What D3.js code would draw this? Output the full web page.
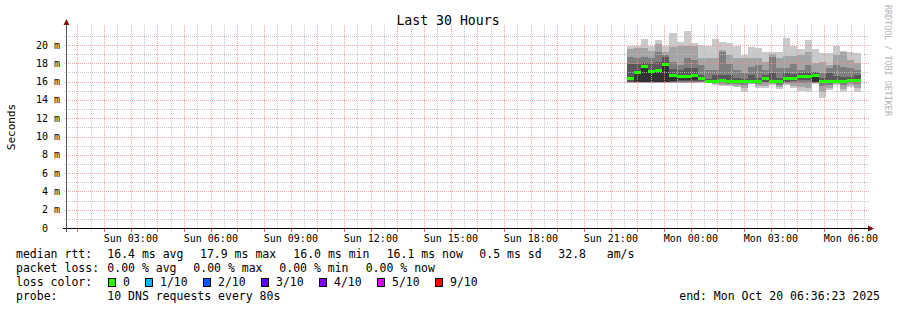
<!DOCTYPE html>
<meta charset='utf-8'>
<style>
html, body {
  margin: 0;
  padding: 0;
  background: #fff;
}
svg {
  display: block;
  font-family: 'DejaVu Sans Mono', monospace;
}
.minor { stroke: rgba(190,190,190,0.85); stroke-dasharray: 1,1; }
.major { stroke: rgba(240,140,140,0.8); stroke-dasharray: 1,1; }
text { fill: #000; white-space: pre; }
</style>
<body>
<div id='chart'></div>
<script src='https://cdnjs.cloudflare.com/ajax/libs/d3/7.8.5/d3.min.js'></script>
<script>

// ---- data ----
var yTicks = [0, 2, 4, 6, 8, 10, 12, 14, 16, 18, 20];
var yMax = 21.86;
var sampleStart = Date.UTC(2025, 9, 19, 21, 36);  // first smoke column
var stepMin = 16;

// median rtt per column (ms)
var median = [16.35, 16.95, 17.63, 17.15, 17.25, 17.85, 16.72, 16.58, 16.58, 16.62,
  16.3, 15.97, 15.97, 16.1, 15.97, 15.97, 15.97, 15.97, 15.97, 16.3,
  15.97, 15.97, 16.35, 16.35, 16.54, 16.54, 16.72, 15.97, 15.97, 15.97,
  15.97, 16.1, 16.1];

// packet loss per column (pings lost of 10)
var loss = [0,0,0,0,0,0,0,0,0,0,0,0,0,0,0,0,0,0,0,0,0,0,0,0,0,0,0,0,0,0,0,0,0];

// the 10 sorted ping times per column (ms)
var smoke = [
  [15.88, 15.9, 15.93, 15.98, 16.3, 16.4, 17.88, 18.72, 19.56, 19.93],
  [15.88, 15.9, 15.93, 15.95, 16.0, 17.0, 17.9, 18.6, 19.64, 19.93],
  [15.88, 15.9, 15.92, 15.95, 16.0, 17.7, 18.0, 18.72, 19.7, 20.65],
  [15.88, 15.9, 15.92, 15.95, 16.0, 17.2, 18.0, 18.6, 19.3, 19.93],
  [15.88, 15.9, 15.92, 15.95, 16.0, 17.3, 18.17, 19.2, 20.1, 20.55],
  [15.88, 15.9, 15.92, 15.95, 16.0, 17.9, 18.7, 18.9, 19.2, 19.93],
  [15.88, 15.9, 15.95, 16.0, 16.1, 16.75, 17.4, 18.17, 19.82, 21.27],
  [15.88, 15.9, 15.95, 16.05, 16.2, 16.6, 17.3, 17.81, 19.9, 20.3],
  [15.88, 15.9, 15.95, 16.05, 16.2, 16.6, 17.45, 18.54, 19.93, 21.53],
  [15.88, 15.9, 15.95, 16.05, 16.2, 16.65, 17.45, 18.36, 19.93, 20.18],
  [15.9, 15.95, 16.0, 16.1, 16.25, 16.4, 16.72, 17.8, 18.6, 20.0],
  [15.85, 15.88, 15.9, 15.93, 15.95, 16.05, 16.3, 17.27, 18.6, 19.93],
  [15.63, 15.7, 15.8, 15.9, 15.95, 16.1, 16.72, 17.27, 18.6, 20.65],
  [15.5, 15.6, 15.8, 15.95, 16.05, 16.2, 16.72, 19.2, 19.45, 20.3],
  [15.5, 15.6, 15.75, 15.9, 15.95, 16.05, 16.72, 17.88, 18.9, 20.2],
  [15.45, 15.55, 15.7, 15.9, 15.95, 16.05, 16.4, 17.27, 18.6, 19.93],
  [14.9, 15.3, 15.6, 15.85, 15.95, 16.05, 16.3, 16.9, 18.54, 18.9],
  [15.7, 15.75, 15.8, 15.9, 15.95, 16.05, 16.72, 17.6, 18.6, 19.82],
  [15.35, 15.5, 15.7, 15.88, 15.95, 16.05, 16.4, 17.8, 18.54, 19.64],
  [15.26, 15.5, 15.8, 16.0, 16.2, 16.4, 16.7, 17.27, 18.17, 19.2],
  [15.63, 15.7, 15.8, 15.9, 15.95, 16.05, 16.9, 18.7, 19.0, 19.2],
  [15.2, 15.4, 15.6, 15.85, 15.95, 16.05, 16.4, 17.5, 18.54, 19.2],
  [15.63, 15.75, 15.85, 16.0, 16.3, 16.4, 16.9, 17.45, 18.83, 20.8],
  [15.26, 15.5, 15.8, 16.1, 16.3, 16.4, 16.8, 17.88, 18.83, 19.93],
  [15.0, 15.4, 15.8, 16.2, 16.5, 16.6, 16.9, 17.27, 18.9, 19.56],
  [14.9, 15.3, 15.8, 16.2, 16.5, 16.6, 17.0, 17.8, 19.2, 20.55],
  [15.7, 15.8, 15.9, 15.95, 16.0, 16.8, 17.0, 17.08, 18.0, 19.56],
  [14.24, 14.9, 15.5, 15.85, 15.95, 16.05, 16.4, 16.9, 18.17, 19.1],
  [15.08, 15.3, 15.6, 15.85, 15.95, 16.05, 16.9, 17.45, 17.8, 19.1],
  [15.63, 15.7, 15.8, 15.9, 15.95, 16.05, 16.6, 17.8, 18.9, 19.93],
  [14.9, 15.2, 15.6, 15.85, 15.95, 16.05, 16.5, 17.6, 19.2, 19.35],
  [15.45, 15.6, 15.8, 15.95, 16.05, 16.15, 16.54, 17.45, 18.4, 19.2],
  [14.9, 15.3, 15.7, 15.95, 16.05, 16.15, 16.7, 17.27, 18.0, 19.1]
];

var lossLabels = ['0', '1/10', '2/10', '3/10', '4/10', '5/10', '9/10'];
var lossColors = ['#26ff00', '#00b8ff', '#0059ff', '#5e00ff', '#7e00ff', '#dd00ff', '#ff0000'];

var rttStats = ['16.4 ms avg', '17.9 ms max', '16.0 ms min', '16.1 ms now', '0.5 ms sd', '32.8   am/s'];
var lossStats = ['0.00 % avg', '0.00 % max', '0.00 % min', '0.00 % now'];

// ---- layout ----
var W = 897, H = 310;
var pLeft = 67, pRight = 867, pTop = 28, pBottom = 228;
var tStart = new Date(Date.UTC(2025, 9, 19, 0, 36, 23));
var tEnd = new Date(Date.UTC(2025, 9, 20, 6, 36, 23));

var x = d3.scaleUtc().domain([tStart, tEnd]).range([pLeft, pRight]);
var y = d3.scaleLinear().domain([0, yMax]).range([pBottom, pTop]);
var fmt = d3.utcFormat('%a %H:%M');

var svg = d3.select('#chart').append('svg')
    .attr('width', W)
    .attr('height', H);

var px = function(v) { return Math.round(v) + 0.5; };

// smoke: band i spans ping i .. ping (11-i), inner bands darker
var bandColors = [];
for (var b = 1; b <= 5; b++) {
  var c = Math.floor(190 / 5 * (5 - b)) + 50;
  bandColors.push(d3.rgb(c, c, c).formatHex());
}

var cols = smoke.map(function(p, i) {
  return {
    t0: new Date(sampleStart + i * stepMin * 60000),
    t1: new Date(sampleStart + (i + 1) * stepMin * 60000),
    p: p, med: median[i], loss: loss[i]
  };
});

var plot = svg.append('g').attr('shape-rendering', 'crispEdges');
cols.forEach(function(d) {
  for (var b = 0; b < 5; b++) {
    plot.append('rect')
      .attr('x', x(d.t0))
      .attr('width', x(d.t1) - x(d.t0))
      .attr('y', y(d.p[9 - b]))
      .attr('height', y(d.p[b]) - y(d.p[9 - b]))
      .attr('fill', bandColors[b]);
  }
});

// grid (on top of the smoke, like rrdtool)
var grid = svg.append('g').attr('shape-rendering', 'crispEdges');
var halfHours = d3.utcMinute.every(30).range(tStart, tEnd).filter(function(d) { return d.getUTCMinutes() == 30; });
var hours = d3.utcHour.range(tStart, tEnd);
var yMinor = d3.range(1, yMax, 2);

grid.selectAll('.hmin').data(yMinor).enter().append('line')
  .attr('class', 'minor')
  .attr('x1', pLeft - 3).attr('x2', pRight + 3)
  .attr('y1', function(d) { return px(y(d)); })
  .attr('y2', function(d) { return px(y(d)); });
grid.selectAll('.vmin').data(halfHours).enter().append('line')
  .attr('class', 'minor')
  .attr('y1', pTop - 3).attr('y2', pBottom + 3)
  .attr('x1', function(d) { return px(x(d)); })
  .attr('x2', function(d) { return px(x(d)); });
grid.selectAll('.hmaj').data(yTicks.slice(1)).enter().append('line')
  .attr('class', 'major')
  .attr('x1', pLeft - 3).attr('x2', pRight + 3)
  .attr('y1', function(d) { return px(y(d)); })
  .attr('y2', function(d) { return px(y(d)); });
grid.selectAll('.vmaj').data(hours).enter().append('line')
  .attr('class', 'major')
  .attr('y1', pTop - 3).attr('y2', pBottom + 3)
  .attr('x1', function(d) { return px(x(d)); })
  .attr('x2', function(d) { return px(x(d)); });

// median, coloured by loss
svg.append('g').attr('shape-rendering', 'crispEdges')
  .selectAll('rect').data(cols).enter().append('rect')
  .attr('x', function(d) { return x(d.t0); })
  .attr('width', function(d) { return x(d.t1) - x(d.t0); })
  .attr('y', function(d) { return y(d.med) - 1.5; })
  .attr('height', 3)
  .attr('fill', function(d) { return lossColors[d.loss]; });

// axes
var ax = svg.append('g').attr('shape-rendering', 'crispEdges');
ax.append('line').attr('x1', pLeft - 4).attr('x2', pRight + 3)
  .attr('y1', px(pBottom)).attr('y2', px(pBottom)).attr('stroke', '#000');
ax.append('line').attr('x1', px(pLeft - 1)).attr('x2', px(pLeft - 1))
  .attr('y1', pBottom + 4).attr('y2', pTop - 4).attr('stroke', '#555');
ax.selectAll('.tk').data(hours).enter().append('line')
  .attr('x1', function(d) { return px(x(d)); })
  .attr('x2', function(d) { return px(x(d)); })
  .attr('y1', pBottom + 1).attr('y2', pBottom + 4).attr('stroke', '#e06060');

svg.append('path')
  .attr('d', 'M' + (pLeft - 3.5) + ',' + (pTop - 3) + 'L' + (pLeft - 0.5) + ',' + (pTop - 9) + 'L' + (pLeft + 2.5) + ',' + (pTop - 3) + 'Z')
  .attr('fill', '#7f1010');
svg.append('path')
  .attr('d', 'M' + (pRight + 1) + ',' + (pBottom - 2.5) + 'L' + (pRight + 7) + ',' + (pBottom + 0.5) + 'L' + (pRight + 1) + ',' + (pBottom + 3.5) + 'Z')
  .attr('fill', '#7f1010');

// tick labels
svg.selectAll('.xl').data(d3.utcHour.every(3).range(tStart, tEnd)).enter().append('text')
  .attr('x', function(d) { return x(d); })
  .attr('y', 241.5)
  .attr('text-anchor', 'middle')
  .style('font-size', '10px')
  .text(fmt);

svg.selectAll('.yl').data(yTicks).enter().append('text')
  .attr('x', function(d) { return d == 0 ? 48 : 60; })
  .attr('y', function(d) { return y(d) + 3.5; })
  .attr('text-anchor', 'end')
  .style('font-size', '10px')
  .text(function(d) { return d == 0 ? '0' : d + ' m'; });

// titles
svg.append('text')
  .attr('x', 448).attr('y', 24.5)
  .attr('text-anchor', 'middle')
  .style('font-size', '13.2px')
  .text('Last 30 Hours');

svg.append('text')
  .attr('transform', 'translate(15,127) rotate(-90)')
  .attr('text-anchor', 'middle')
  .style('font-size', '11px')
  .text('Seconds');

svg.append('text')
  .attr('transform', 'translate(885,5) rotate(90)')
  .style('font-size', '8.4px')
  .style('fill', '#b4b4b4')
  .text('RRDTOOL / TOBI OETIKER');

// legend
var lg = svg.append('g').style('font-size', '11.5px');
var rows = [258, 272, 286, 299.5];
lg.append('text').attr('x', 16).attr('y', rows[0]).text('median rtt:');
var rttX = [107.3, 200, 293.3, 386.7, 479.3, 558.3];
rttStats.forEach(function(s, i) {
  lg.append('text').attr('x', rttX[i]).attr('y', rows[0]).text(s);
});
lg.append('text').attr('x', 16).attr('y', rows[1]).text('packet loss:');
var lossX = [107.3, 193.3, 279.3, 365.7];
lossStats.forEach(function(s, i) {
  lg.append('text').attr('x', lossX[i]).attr('y', rows[1]).text(s);
});
lg.append('text').attr('x', 16).attr('y', rows[2]).text('loss color:');
var boxX = [108, 145, 203, 261, 319, 377, 435];
lossLabels.forEach(function(s, i) {
  lg.append('rect')
    .attr('x', boxX[i] + 0.5).attr('y', 278.5)
    .attr('width', 7).attr('height', 8)
    .attr('fill', lossColors[i])
    .attr('stroke', '#000')
    .attr('shape-rendering', 'crispEdges');
  lg.append('text').attr('x', boxX[i] + 15).attr('y', rows[2]).text(s);
});
lg.append('text').attr('x', 16).attr('y', rows[3]).text('probe:');
lg.append('text').attr('x', 107.3).attr('y', rows[3]).text('10 DNS requests every 80s');
lg.append('text').attr('x', 880).attr('y', rows[3]).attr('text-anchor', 'end')
  .text('end: Mon Oct 20 06:36:23 2025');

</script>
